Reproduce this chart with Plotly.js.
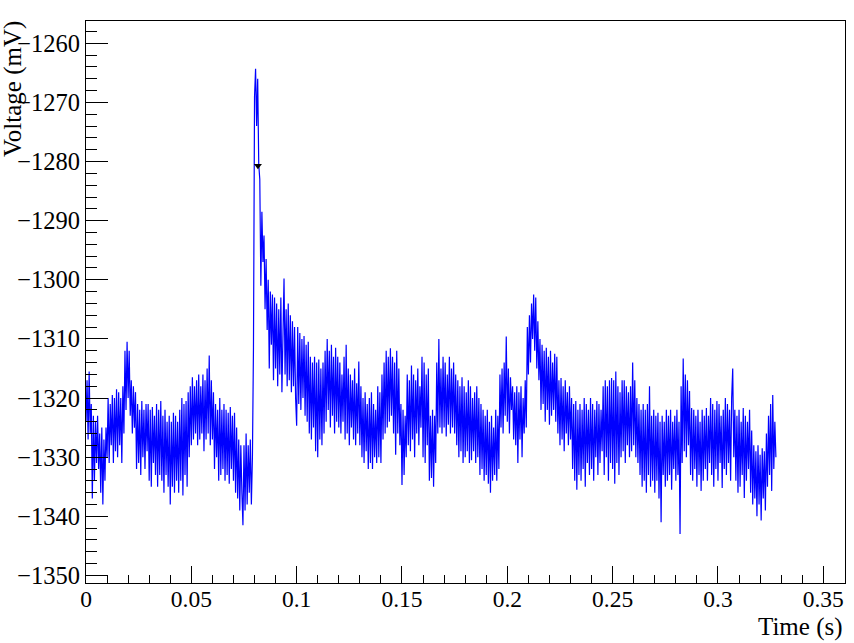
<!DOCTYPE html>
<html>
<head>
<meta charset="utf-8">
<script src="https://cdn.plot.ly/plotly-3.0.1.min.js"></script>
<style>html,body{margin:0;padding:0;background:#fff;}#chart{width:854px;height:643px;}</style>
</head>
<body>
<div id="chart"></div>
<script>
// Sampling interval of the waveform (s)
const sampleStep = 0.0005;
// Voltage samples (mV), one per sample
const voltage = [
 -1324,-1317,-1327,-1315.5,-1326,-1321,-1337,-1323,-1334,-1324,
 -1331,-1323,-1332,-1326,-1336,-1325,-1338,-1327,-1334,-1325,
 -1330,-1320,-1331,-1321,-1328,-1319.5,-1331,-1320,-1329,-1318.5,
 -1330,-1319,-1328,-1320,-1331,-1318,-1326,-1312,-1322,-1310.5,
 -1320,-1312,-1323,-1317,-1326,-1318,-1325,-1319,-1332,-1321,
 -1331,-1322,-1333,-1320.5,-1330,-1322,-1332,-1321,-1329,-1321,
 -1334,-1322,-1335,-1321.5,-1331,-1323,-1333,-1321,-1335,-1322,
 -1333,-1320.5,-1334,-1323,-1336,-1322,-1333,-1324,-1335,-1323,
 -1338,-1324,-1335,-1322.5,-1336,-1323,-1334,-1324,-1336,-1322,
 -1334,-1320,-1336.5,-1321,-1333,-1320.5,-1335,-1319,-1330,-1318,
 -1328,-1316.5,-1327,-1318,-1326,-1317,-1328,-1316,-1327,-1318,
 -1326,-1316,-1329,-1317,-1327,-1315,-1326,-1312.8,-1328,-1317,
 -1327,-1319,-1332,-1321,-1330,-1322,-1334,-1320,-1333,-1322,
 -1332,-1321,-1334,-1322,-1333,-1322.5,-1334.5,-1321.5,-1332,-1323,
 -1334,-1322.5,-1336,-1325,-1337,-1327,-1339,-1328,-1336,-1341.5,
 -1328,-1339,-1326,-1338,-1328,-1336,-1327,-1338,-1330,-1311.5,
 -1269,-1264.3,-1274,-1266,-1280.5,-1283,-1301,-1288.5,-1297,-1292.5,
 -1305,-1296.5,-1308.5,-1300,-1315,-1302,-1311,-1302.5,-1317,-1303,
 -1315,-1304,-1318,-1305,-1316,-1303,-1319,-1306,-1299.8,-1316,
 -1305,-1318,-1304,-1317,-1306,-1319,-1307,-1318,-1308,-1320,
 -1324.7,-1308,-1321,-1309,-1322,-1310,-1320,-1309.5,-1323,-1311,
 -1324,-1310.5,-1326,-1313,-1327,-1314,-1325,-1313,-1329,-1314,
 -1330,-1313.5,-1327,-1315,-1328,-1314,-1326,-1312,-1324,-1310,
 -1322,-1312,-1325,-1311,-1323,-1313,-1326,-1311.5,-1324,-1313,
 -1325,-1314,-1326,-1316,-1324,-1313,-1327,-1311,-1326,-1315,
 -1328,-1316,-1325,-1317,-1327,-1315,-1328,-1317.5,-1326,-1313.8,
 -1328,-1318,-1330,-1320,-1331,-1319,-1329,-1321,-1332,-1320,
 -1331,-1319,-1332,-1321,-1330,-1322,-1331,-1318,-1330,-1319,
 -1331,-1316,-1327,-1314,-1326,-1312,-1325,-1313,-1324,-1311.6,
 -1323,-1313,-1326,-1314,-1329.6,-1312,-1326,-1315,-1328,-1321,
 -1334.7,-1322,-1333,-1323,-1330,-1316,-1328,-1317,-1329,-1314.5,
 -1327,-1316,-1330,-1317,-1326,-1315,-1328,-1318,-1325,-1313,
 -1330,-1314,-1331,-1316,-1328,-1315,-1334,-1323,-1333.5,-1322,
 -1335,-1323,-1331,-1314,-1326,-1310,-1325,-1315,-1326,-1313,
 -1325,-1314,-1326.5,-1316,-1324.5,-1313,-1326,-1315,-1325,-1314,
 -1326,-1316,-1328,-1317,-1330,-1318,-1329,-1316.5,-1331,-1318,
 -1330,-1319,-1329,-1317,-1331,-1318,-1330.5,-1320,-1329,-1319,
 -1331,-1318,-1330,-1320,-1333,-1321,-1332,-1322,-1334,-1323,
 -1333,-1322,-1334.5,-1324,-1336,-1323,-1334,-1325,-1333,-1322,
 -1334,-1323,-1332,-1316,-1325,-1315,-1326,-1314,-1323,-1309.6,
 -1324,-1315,-1326,-1316.5,-1322,-1318,-1327,-1319,-1328,-1318,
 -1331,-1319,-1327,-1318,-1330,-1320,-1326,-1317,-1325,-1308,
 -1316,-1306,-1314,-1304,-1310,-1302.5,-1312,-1303,-1315,-1307,
 -1317,-1310,-1322,-1311,-1321,-1312,-1324,-1311.5,-1322,-1313,
 -1324.5,-1312,-1323,-1314,-1322,-1312.5,-1324,-1313,-1326,-1317,
 -1328,-1316.6,-1327,-1318,-1329,-1317,-1326,-1319,-1328,-1318,
 -1327,-1320,-1332,-1321,-1334,-1320.5,-1335.5,-1322,-1333,-1321,
 -1334,-1322,-1332,-1320,-1335,-1321,-1331,-1322,-1333,-1320,
 -1332,-1321,-1334,-1322,-1330,-1320.5,-1333,-1321,-1331,-1322,
 -1329,-1318,-1333,-1317,-1330,-1318,-1334,-1317,-1331,-1316.6,
 -1332,-1317,-1334.5,-1315.5,-1331,-1318,-1333,-1319,-1330,-1317,
 -1329,-1317,-1331,-1318,-1328,-1319,-1330,-1318,-1329,-1314,
 -1328,-1317,-1330,-1320,-1331,-1321,-1333,-1322,-1335,-1321,
 -1334,-1322,-1336,-1321,-1333,-1318,-1335,-1323,-1334,-1322,
 -1336,-1323,-1334,-1322.5,-1337,-1324,-1341,-1323,-1333,-1324,
 -1335,-1322,-1334,-1323,-1333,-1322,-1335.5,-1324,-1332,-1323,
 -1334,-1322,-1333,-1324,-1343,-1318,-1331,-1313.3,-1329,-1316,
 -1330,-1317,-1328,-1318.8,-1333,-1321.7,-1334,-1322,-1332,-1323,
 -1335,-1322,-1333,-1324,-1335.7,-1322,-1334,-1323,-1332,-1321.7,
 -1334,-1323,-1331,-1320,-1333,-1321,-1335,-1322,-1332,-1320.5,
 -1334,-1321,-1331,-1323,-1335.2,-1322,-1332,-1320,-1333,-1321,
 -1331,-1322,-1334,-1320,-1315,-1330,-1322,-1334,-1323,-1336,
 -1322,-1335,-1324,-1333,-1321.7,-1336.9,-1323,-1334,-1324,-1332,
 -1322,-1336,-1325.5,-1338,-1328,-1337,-1329,-1340,-1328,-1338,
 -1329.6,-1340.7,-1328.5,-1337,-1329,-1339,-1326,-1335,-1323,-1333,
 -1321,-1335.7,-1319.5,-1332,-1324,-1330
];
const time = voltage.map((_, i) => i * sampleStep);

// Marker drawn on the pulse
const markerTime = [0.0816];
const markerVoltage = [-1280.7];

// Axis ticks
const xTickVals = [0, 0.05, 0.1, 0.15, 0.2, 0.25, 0.3, 0.35];
const xTickText = ['0', '0.05', '0.1', '0.15', '0.2', '0.25', '0.3', '0.35'];

const serif = 'Liberation Serif, Times New Roman, Times, serif';

const traces = [
  {x: time, y: voltage, type: 'scatter', mode: 'lines',
   line: {color: '#0000ff', width: 1.2}, hoverinfo: 'skip'},
  {x: markerTime, y: markerVoltage, type: 'scatter', mode: 'markers',
   marker: {symbol: 'triangle-down', size: 7, color: '#000000'}, hoverinfo: 'skip'}
];

const layout = {
  width: 854, height: 643,
  margin: {l: 86, r: 9, t: 21, b: 60},
  paper_bgcolor: '#ffffff', plot_bgcolor: '#ffffff',
  showlegend: false,
  font: {family: serif, color: '#000000', size: 23},
  xaxis: {
    range: [0, 0.3603], showgrid: false, zeroline: false,
    showline: true, mirror: true, linecolor: '#000', linewidth: 1,
    ticks: 'inside', ticklen: 17, tickwidth: 1, tickcolor: '#000',
    tickmode: 'array', tickvals: xTickVals, ticktext: xTickText,
    ticklabelstandoff: -5,
    tickfont: {family: serif, size: 23.5, color: '#000'},
    minor: {ticks: 'inside', dtick: 0.01, tick0: 0, ticklen: 8, tickwidth: 1, tickcolor: '#000', showgrid: false}
  },
  yaxis: {
    range: [-1351.28, -1256.23], showgrid: false, zeroline: false,
    showline: true, mirror: true, linecolor: '#000', linewidth: 1,
    ticks: 'inside', ticklen: 22, tickwidth: 1, tickcolor: '#000',
    dtick: 10, tick0: -1350,
    tickfont: {family: serif, size: 24.5, color: '#000'},
    minor: {ticks: 'inside', dtick: 2, tick0: -1350, ticklen: 11, tickwidth: 1, tickcolor: '#000', showgrid: false}
  },
  annotations: [
    {text: 'Time (s)', xref: 'paper', yref: 'paper', x: 1, y: 0,
     xanchor: 'right', yanchor: 'bottom', yshift: -60, showarrow: false,
     font: {family: serif, size: 25, color: '#000'}},
    {text: 'Voltage (mV)', xref: 'paper', yref: 'paper', x: 0, y: 1,
     xanchor: 'left', yanchor: 'top', xshift: -89, yshift: 2, textangle: -90, showarrow: false,
     font: {family: serif, size: 25, color: '#000'}}
  ]
};

Plotly.newPlot('chart', traces, layout, {displayModeBar: false, staticPlot: true});
</script>
</body>
</html>
